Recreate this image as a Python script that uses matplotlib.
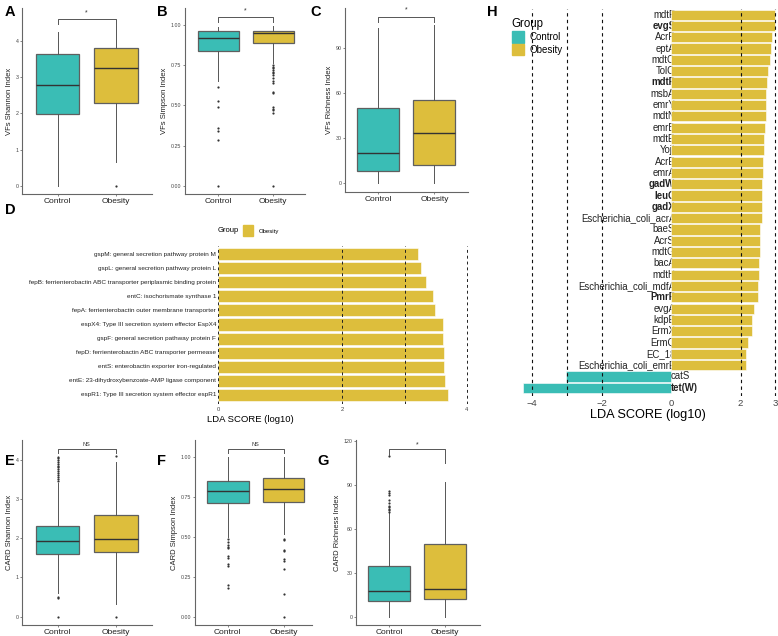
import matplotlib.pyplot as plt
from matplotlib.patches import Patch, Rectangle

plt.rcParams['font.family'] = ['Liberation Sans', 'DejaVu Sans']

W, H = 778, 636
teal = '#3abdb5'
gold = '#ddbe3c'
groups = ['Control', 'Obesity']

# box stats: whislo, q1, median, q3, whishi
vf_shannon_ctrl = [0.0, 1.97, 2.78, 3.63, 4.25]
vf_shannon_ob = [0.65, 2.29, 3.26, 3.79, 4.43]
vf_shannon_out = [[], [0.0]]

vf_simpson_ctrl = [0.654, 0.84, 0.921, 0.961, 0.99]
vf_simpson_ob = [0.762, 0.886, 0.948, 0.965, 0.995]
vf_simpson_out = [[0.617, 0.528, 0.49, 0.362, 0.342, 0.286, 0.0],
                  [0.752, 0.74, 0.73, 0.72, 0.71, 0.70, 0.69, 0.67, 0.65, 0.638,
                   0.586, 0.575, 0.49, 0.48, 0.47, 0.45, 0.0]]

vf_rich_ctrl = [0, 7.8, 19.6, 49.6, 103]
vf_rich_ob = [0, 12, 32.9, 55.1, 105]
vf_rich_out = [[], []]

card_shannon_ctrl = [0.6, 1.59, 1.94, 2.31, 3.41]
card_shannon_ob = [0.32, 1.64, 1.98, 2.58, 3.95]
card_shannon_out = [[3.45, 3.5, 3.55, 3.6, 3.65, 3.7, 3.75, 3.8, 3.85, 3.9, 3.95,
                     4.0, 4.03, 4.06, 0.51, 0.48, 0.0], [4.1, 0.0]]

card_simpson_ctrl = [0.50, 0.711, 0.79, 0.853, 1.0]
card_simpson_ob = [0.52, 0.722, 0.80, 0.868, 1.0]
card_simpson_out = [[0.49, 0.47, 0.45, 0.44, 0.43, 0.38, 0.37, 0.33, 0.32, 0.2, 0.18],
                    [0.49, 0.48, 0.42, 0.41, 0.36, 0.35, 0.30, 0.14, 0.0]]

card_rich_ctrl = [0, 10.7, 17.8, 34.6, 70.7]
card_rich_ob = [0, 11.9, 18.7, 49.7, 92.3]
card_rich_out = [[72, 73, 74, 75, 76, 78, 80, 83, 85, 86, 110], []]

# panel D (VF LEfSe)
vf_lda_labels = ['espR1: Type III secretion system effector espR1',
                 'entE: 23-dihydroxybenzoate-AMP ligase component',
                 'entS: enterobactin exporter iron-regulated',
                 'fepD: ferrienterobactin ABC transporter permease',
                 'gspF: general secretion pathway protein F',
                 'espX4: Type III secretion system effector EspX4',
                 'fepA: ferrienterobactin outer membrane transporter',
                 'entC: isochorismate synthase 1',
                 'fepB: ferrienterobactin ABC transporter periplasmic binding protein',
                 'gspL: general secretion pathway protein L',
                 'gspM: general secretion pathway protein M']
vf_lda_values = [3.69, 3.65, 3.64, 3.63, 3.62, 3.61, 3.49, 3.46, 3.35, 3.26, 3.215]

# panel H (CARD LEfSe), bottom to top
card_lda_labels = ['tet(W)', 'catS', 'Escherichia_coli_emrE', 'EC_18', 'ErmQ', 'ErmX',
                   'kdpE', 'evgA', 'PmrF', 'Escherichia_coli_mdfA', 'mdtH', 'bacA',
                   'mdtG', 'AcrS', 'baeS', 'Escherichia_coli_acrA', 'gadX', 'leuO',
                   'gadW', 'emrA', 'AcrE', 'YojI', 'mdtE', 'emrB', 'mdtN', 'emrY',
                   'msbA', 'mdtP', 'TolC', 'mdtO', 'eptA', 'AcrF', 'evgS', 'mdtF']
card_lda_values = [-4.27, -3.02, 2.15, 2.17, 2.22, 2.32, 2.34, 2.38, 2.49, 2.51, 2.52,
                   2.53, 2.55, 2.55, 2.56, 2.62, 2.62, 2.62, 2.62, 2.65, 2.65, 2.69,
                   2.69, 2.71, 2.72, 2.72, 2.73, 2.75, 2.79, 2.84, 2.88, 2.90, 3.0, 3.0]
card_bold = ['tet(W)', 'PmrF', 'gadX', 'leuO', 'gadW', 'mdtP', 'evgS']

fig = plt.figure(figsize=(W / 100, H / 100), dpi=100)


def px_axes(x0, y0, x1, y1):
    return fig.add_axes([x0 / W, 1 - y1 / H, (x1 - x0) / W, (y1 - y0) / H])


def box_panel(rect, ctrl, ob, out, ylabel, xlim, ylim, yticks, ytl, sig, br):
    ax = px_axes(*rect)
    st = []
    for s, o, g in zip([ctrl, ob], out, groups):
        st.append(dict(whislo=s[0], q1=s[1], med=s[2], q3=s[3], whishi=s[4],
                       fliers=o, label=g))
    bp = ax.bxp(st, positions=[1, 2], widths=0.75, patch_artist=True, showcaps=False,
                boxprops=dict(edgecolor='#5f5f5f', linewidth=0.9),
                medianprops=dict(color='#333333', linewidth=1.0),
                whiskerprops=dict(color='#555555', linewidth=0.7),
                flierprops=dict(marker='o', markersize=1.6, markerfacecolor='#333333',
                                markeredgecolor='none'))
    for b, c in zip(bp['boxes'], [teal, gold]):
        b.set_facecolor(c)
    # significance bracket: top y, left tip, right tip, text y
    ytop, tl, tr, yt = br
    ax.plot([1, 1, 2, 2], [tl, ytop, ytop, tr], color='#555555', lw=0.7)
    ax.text(1.5, yt, sig, ha='center', va='center', fontsize=4 if sig == 'NS' else 5,
            color='#333333')
    ax.set_xlim(*xlim)
    ax.set_ylim(*ylim)
    ax.set_yticks(yticks)
    ax.set_yticklabels(ytl)
    ax.tick_params(axis='y', labelsize=3.8, length=1.5, width=0.5, pad=1, colors='#555555',
                   labelcolor='#444444')
    ax.tick_params(axis='x', labelsize=6, length=1.5, width=0.5, pad=1.5, colors='#555555',
                   labelcolor='#222222')
    ax.set_ylabel(ylabel, fontsize=5.5, labelpad=2, color='#222222')
    for s in ['top', 'right']:
        ax.spines[s].set_visible(False)
    for s in ['left', 'bottom']:
        ax.spines[s].set_color('#666666')
        ax.spines[s].set_linewidth(0.8)
    return ax


box_panel((22, 8, 152, 194), vf_shannon_ctrl, vf_shannon_ob, vf_shannon_out,
          'VFs Shannon Index', (0.39, 2.62), (-0.22, 4.9), [0, 1, 2, 3, 4],
          ['0', '1', '2', '3', '4'], '*', (4.6, 4.47, 4.47, 4.76))
box_panel((185, 8, 305, 194), vf_simpson_ctrl, vf_simpson_ob, vf_simpson_out,
          'VFs Simpson Index', (0.395, 2.58), (-0.05, 1.105), [0, 0.25, 0.5, 0.75, 1.0],
          ['0.00', '0.25', '0.50', '0.75', '1.00'], '*', (1.048, 1.02, 1.02, 1.085))
box_panel((345, 8, 468, 192), vf_rich_ctrl, vf_rich_ob, vf_rich_out,
          'VFs Richness Index', (0.405, 2.6), (-6.2, 116.5), [0, 30, 60, 90],
          ['0', '30', '60', '90'], '*', (110.7, 107, 107, 115))
box_panel((22, 440, 152, 625), card_shannon_ctrl, card_shannon_ob, card_shannon_out,
          'CARD Shannon Index', (0.39, 2.62), (-0.21, 4.5), [0, 1, 2, 3, 4],
          ['0', '1', '2', '3', '4'], 'NS', (4.27, 4.17, 4.17, 4.39))
box_panel((195, 440, 312, 625), card_simpson_ctrl, card_simpson_ob, card_simpson_out,
          'CARD Simpson Index', (0.41, 2.51), (-0.052, 1.108), [0, 0.25, 0.5, 0.75, 1.0],
          ['0.00', '0.25', '0.50', '0.75', '1.00'], 'NS', (1.052, 1.025, 1.025, 1.078))
box_panel((356, 440, 480, 625), card_rich_ctrl, card_rich_ob, card_rich_out,
          'CARD Richness Index', (0.405, 2.62), (-5.7, 121), [0, 30, 60, 90, 120],
          ['0', '30', '60', '90', '120'], '*', (114.6, 110.5, 105, 117.5))

# panel D
axd = px_axes(30, 246, 470, 404)
yd = list(range(len(vf_lda_values)))
axd.barh(yd, vf_lda_values, height=0.86, color=gold, edgecolor='white', linewidth=0.4,
         zorder=2)
for x in [0, 2, 3, 4]:
    axd.axvline(x, color='#222222', ls=(0, (3, 3)), lw=0.7, zorder=3)
for y, lab in zip(yd, vf_lda_labels):
    axd.text(-0.03, y, lab, ha='right', va='center', fontsize=4.55, color='#222222',
             zorder=4)
axd.set_xlim(-3.02, 4.05)
axd.set_ylim(-0.64, 10.57)
axd.set_xticks([0, 2, 4])
axd.set_yticks([])
axd.tick_params(axis='x', length=0, labelsize=4.2, pad=2, labelcolor='#444444')
for s in axd.spines.values():
    s.set_visible(False)
axd.set_xlabel('LDA SCORE (log10)', fontsize=6.8, labelpad=2)
fig.text(218 / W, 1 - 231 / H, 'Group', fontsize=5.5, va='center', ha='left')
fig.patches.append(Rectangle((243 / W, 1 - 236 / H), 10 / W, 11 / H, color=gold,
                             transform=fig.transFigure, figure=fig))
fig.text(259 / W, 1 - 231 / H, 'Obesity', fontsize=4.3, va='center', ha='left')

# panel H
axh = px_axes(517, 9, 778, 396)
yh = list(range(len(card_lda_values)))
cols = [teal if v < 0 else gold for v in card_lda_values]
axh.barh(yh, card_lda_values, height=0.9, color=cols, edgecolor='white', linewidth=0.4,
         zorder=2)
for x in [-4, -3, -2, 2, 3]:
    axh.axvline(x, color='#111111', ls=(0, (3, 3)), lw=0.8, zorder=3)
for y, lab, v in zip(yh, card_lda_labels, card_lda_values):
    fw = 'bold' if lab in card_bold else 'normal'
    if v > 0:
        axh.text(0.12, y, lab, ha='right', va='center', fontsize=6.9, color='#222222',
                 fontweight=fw, zorder=1)
    else:
        axh.text(0.0, y, lab, ha='left', va='center', fontsize=6.9, color='#222222',
                 fontweight=fw, zorder=4)
axh.set_xlim(-4.44, 3.08)
axh.set_ylim(-0.73, 33.5)
axh.set_xticks([-4, -2, 0, 2, 3])
axh.set_xticklabels(['\u22124', '\u22122', '0', '2', '3'])
axh.set_yticks([])
axh.tick_params(axis='x', length=0, labelsize=6.8, pad=2, labelcolor='#444444')
for s in axh.spines.values():
    s.set_visible(False)
axh.set_xlabel('LDA SCORE (log10)', fontsize=9.2, labelpad=1)
axh.legend(handles=[Patch(color=teal, label='Control'), Patch(color=gold, label='Obesity')],
           title='Group', loc='upper left', bbox_to_anchor=(503 / W, 1 - 9 / H),
           bbox_transform=fig.transFigure, frameon=False, fontsize=7,
           title_fontsize=8.3, handlelength=1.3, handleheight=1.5, handletextpad=0.5,
           labelspacing=0.1, alignment='left')

letters = [('A', 5, 12), ('B', 157, 12), ('C', 310, 12), ('H', 487, 12),
           ('D', 5, 210), ('E', 5, 461), ('F', 157, 461), ('G', 317, 461)]
for t, x, y in letters:
    fig.text(x / W, 1 - y / H, t, fontsize=10.5, fontweight='bold', ha='left',
             va='center')

fig.savefig('out.png', dpi=100)
